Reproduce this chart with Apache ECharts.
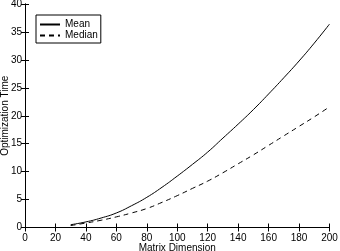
<!DOCTYPE html>
<html><head><meta charset="utf-8">
<script src="https://cdn.jsdelivr.net/npm/echarts@6/dist/echarts.min.js"></script>
<style>html,body{margin:0;padding:0;background:#fff}#c{width:340px;height:251px}</style>
</head><body><div id="c"></div>
<script>
const xValues = [30,40,50,60,70,80,90,100,110,120,130,140,150,160,170,180,190,200];
const meanValues = [0.5,1.0,1.7,2.6,3.9,5.4,7.2,9.2,11.3,13.5,16.0,18.5,21.1,23.9,26.8,29.8,33.0,36.4];
const medianValues = [0.35,0.8,1.3,1.9,2.6,3.4,4.5,5.7,7.0,8.3,9.8,11.4,13.0,14.7,16.4,18.1,19.8,21.6];
const seriesNames = ['Mean','Median'];
const xTitle = 'Matrix Dimension';
const yTitle = 'Optimization Time';

const font = 'Liberation Sans, Arial, Helvetica, sans-serif';
const chart = echarts.init(document.getElementById('c'), null, {renderer:'canvas'});
const axLine = {show:true, lineStyle:{color:'#000', width:1}};
const tick = {show:true, inside:true, length:4, lineStyle:{color:'#000'}};
chart.setOption({
  animation:false,
  backgroundColor:'#fff',
  grid:{left:25, right:10.5, top:4, bottom:23.5, containLabel:false, outerBoundsMode:'none'},
  legend:{
    left:36, top:15, orient:'vertical',
    data:seriesNames,
    backgroundColor:'#fff', borderColor:'#000', borderWidth:1, borderRadius:0,
    padding:[4,3,2,3], itemGap:0, itemWidth:20, itemHeight:11,
    itemStyle:{opacity:0},
    textStyle:{fontFamily:font, fontSize:10, lineHeight:11, color:'#000'}
  },
  xAxis:[
    {type:'value', min:0, max:200, interval:20, position:'bottom',
     name:xTitle, nameLocation:'middle', nameGap:16, nameMoveOverlap:false,
     nameTextStyle:{fontFamily:font, fontSize:10, color:'#000', verticalAlign:'top'},
     axisLine:axLine, axisTick:tick, splitLine:{show:false},
     axisLabel:{fontFamily:font, fontSize:10, color:'#000', margin:6}},
    {type:'value', min:0, max:200, interval:20, position:'top',
     axisLine:axLine, axisTick:tick, splitLine:{show:false}, axisLabel:{show:false}}
  ],
  yAxis:[
    {type:'value', min:0, max:40, interval:5, position:'left',
     name:yTitle, nameLocation:'middle', nameGap:15, nameRotate:90, nameMoveOverlap:false,
     nameTextStyle:{fontFamily:font, fontSize:10, color:'#000'},
     axisLine:axLine, axisTick:tick, splitLine:{show:false},
     axisLabel:{fontFamily:font, fontSize:10, color:'#000', margin:3}},
    {type:'value', min:0, max:40, interval:5, position:'right',
     axisLine:axLine, axisTick:tick, splitLine:{show:false}, axisLabel:{show:false}}
  ],
  series:[
    {name:seriesNames[0], type:'line', smooth:true, symbol:'none',
     data:xValues.map((x,i)=>[x,meanValues[i]]),
     lineStyle:{color:'#000', width:1, type:'solid'}, itemStyle:{color:'#000'}},
    {name:seriesNames[1], type:'line', smooth:true, symbol:'none',
     data:xValues.map((x,i)=>[x,medianValues[i]]),
     lineStyle:{color:'#000', width:1, type:[5,4]}, itemStyle:{color:'#000'}}
  ]
});
</script></body></html>
